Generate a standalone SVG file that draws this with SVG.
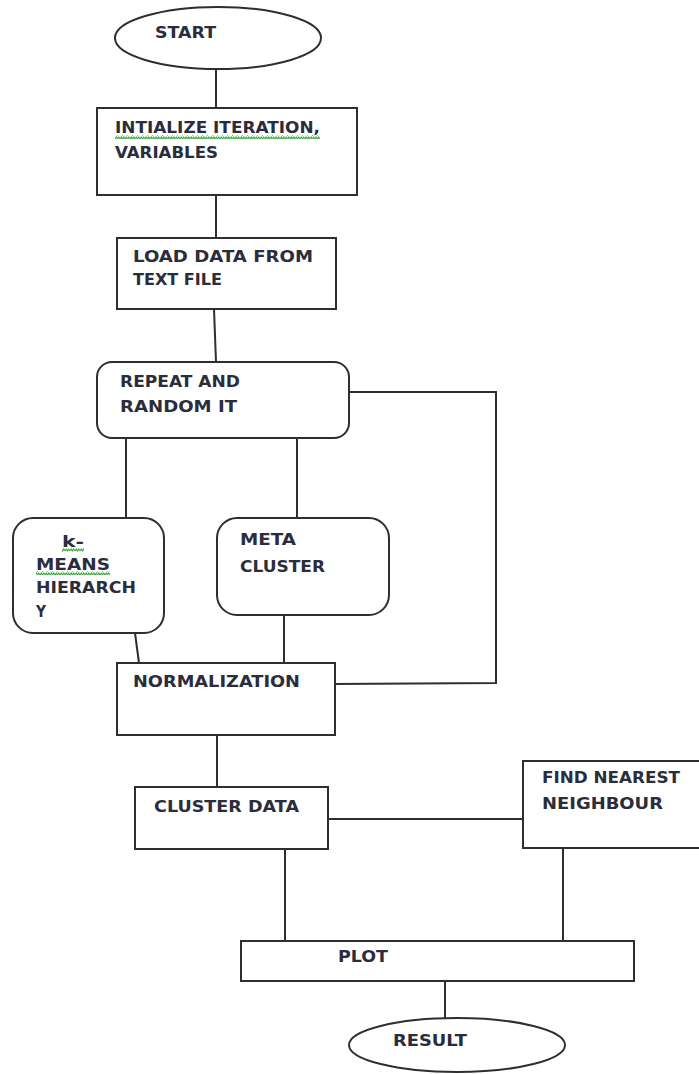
<svg xmlns="http://www.w3.org/2000/svg" width="699" height="1074" viewBox="0 0 699 1074">
  <style>
    .shape { fill: #ffffff; stroke: #2e2e2e; stroke-width: 2; }
    .wire { fill: none; stroke: #2e2e2e; stroke-width: 2; }
    .label { font-family: "DejaVu Sans", "Liberation Sans", sans-serif; font-size: 16px; font-weight: bold; fill: #2b2d3c; }
  </style>
  <defs>
    <pattern id="wave" x="0" y="0" width="5" height="4" patternUnits="userSpaceOnUse">
      <path d="M0,3 L1.25,1 L2.5,3 L3.75,1 L5,3" fill="none" stroke="#3aa83a" stroke-width="1.1"/>
    </pattern>
  </defs>
  <rect width="699" height="1074" fill="#ffffff"/>

  <!-- connectors -->
  <g id="connectors">
    <line class="wire" x1="216" y1="70" x2="216" y2="108"/>
    <line class="wire" x1="216" y1="195" x2="216" y2="238"/>
    <line class="wire" x1="214" y1="309" x2="216" y2="362"/>
    <line class="wire" x1="126" y1="438" x2="126" y2="518"/>
    <line class="wire" x1="297" y1="438" x2="297" y2="518"/>
    <polyline class="wire" points="349,392 496,392 496,683 334,684"/>
    <line class="wire" x1="135" y1="633" x2="139" y2="663"/>
    <line class="wire" x1="284" y1="615" x2="284" y2="663"/>
    <line class="wire" x1="217" y1="735" x2="217" y2="787"/>
    <line class="wire" x1="328" y1="819" x2="523" y2="819"/>
    <line class="wire" x1="285" y1="849" x2="285" y2="941"/>
    <line class="wire" x1="563" y1="848" x2="563" y2="941"/>
    <line class="wire" x1="445" y1="981" x2="445" y2="1018"/>
  </g>

  <g id="start">
    <ellipse class="shape" cx="218" cy="38" rx="103" ry="31"/>
    <text class="label" x="155" y="38" textLength="61" lengthAdjust="spacingAndGlyphs">START</text>
  </g>

  <g id="init">
    <rect class="shape" x="97" y="108" width="260" height="87"/>
    <text class="label" x="115" y="133" textLength="205" lengthAdjust="spacingAndGlyphs">INTIALIZE ITERATION,</text>
    <rect x="115" y="135" width="205" height="4" fill="url(#wave)"/>
    <text class="label" x="115" y="158" textLength="103" lengthAdjust="spacingAndGlyphs">VARIABLES</text>
  </g>

  <g id="load">
    <rect class="shape" x="117" y="238" width="219" height="71"/>
    <text class="label" x="133" y="262" textLength="180" lengthAdjust="spacingAndGlyphs">LOAD DATA FROM</text>
    <text class="label" x="133" y="285" textLength="89" lengthAdjust="spacingAndGlyphs">TEXT FILE</text>
  </g>

  <g id="repeat">
    <rect class="shape" x="97" y="362" width="252" height="76" rx="15" ry="15"/>
    <text class="label" x="120" y="387" textLength="120" lengthAdjust="spacingAndGlyphs">REPEAT AND</text>
    <text class="label" x="120" y="412" textLength="117" lengthAdjust="spacingAndGlyphs">RANDOM IT</text>
  </g>

  <g id="kmeans">
    <rect class="shape" x="13" y="518" width="151" height="115" rx="20" ry="20"/>
    <text class="label" x="62" y="547" textLength="22" lengthAdjust="spacingAndGlyphs">k-</text>
    <rect x="62" y="548" width="22" height="4" fill="url(#wave)"/>
    <text class="label" x="36" y="570" textLength="74" lengthAdjust="spacingAndGlyphs">MEANS</text>
    <rect x="36" y="571" width="74" height="4" fill="url(#wave)"/>
    <text class="label" x="36" y="593" textLength="100" lengthAdjust="spacingAndGlyphs">HIERARCH</text>
    <text class="label" x="36" y="617" textLength="10" lengthAdjust="spacingAndGlyphs">Y</text>
  </g>

  <g id="meta">
    <rect class="shape" x="217" y="518" width="172" height="97" rx="20" ry="20"/>
    <text class="label" x="240" y="545" textLength="56" lengthAdjust="spacingAndGlyphs">META</text>
    <text class="label" x="240" y="572" textLength="85" lengthAdjust="spacingAndGlyphs">CLUSTER</text>
  </g>

  <g id="normalization">
    <rect class="shape" x="117" y="663" width="218" height="72"/>
    <text class="label" x="133" y="687" textLength="167" lengthAdjust="spacingAndGlyphs">NORMALIZATION</text>
  </g>

  <g id="cluster">
    <rect class="shape" x="135" y="787" width="193" height="62"/>
    <text class="label" x="154" y="812" textLength="145" lengthAdjust="spacingAndGlyphs">CLUSTER DATA</text>
  </g>

  <g id="nearest">
    <rect class="shape" x="523" y="761" width="190" height="87"/>
    <text class="label" x="542" y="783" textLength="138" lengthAdjust="spacingAndGlyphs">FIND NEAREST</text>
    <text class="label" x="542" y="809" textLength="121" lengthAdjust="spacingAndGlyphs">NEIGHBOUR</text>
  </g>

  <g id="plot">
    <rect class="shape" x="241" y="941" width="393" height="40"/>
    <text class="label" x="338" y="962" textLength="50" lengthAdjust="spacingAndGlyphs">PLOT</text>
  </g>

  <g id="result">
    <ellipse class="shape" cx="457" cy="1045" rx="108" ry="27"/>
    <text class="label" x="393" y="1046" textLength="74" lengthAdjust="spacingAndGlyphs">RESULT</text>
  </g>
</svg>
